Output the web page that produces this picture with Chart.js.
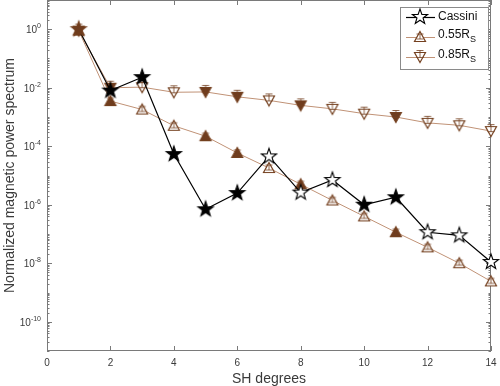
<!DOCTYPE html>
<html>
<head>
<meta charset="utf-8">
<script src="https://cdn.jsdelivr.net/npm/chart.js@4/dist/chart.umd.min.js"></script>
<style>
  html, body { margin:0; padding:0; background:#fff; }
  #wrap { width:500px; height:386px; }
</style>
</head>
<body>
<div id="wrap"><canvas id="c" width="500" height="386"></canvas></div>
<script>
// ---- data ----
const degrees = [1,2,3,4,5,6,7,8,9,10,11,12,13,14];
const cassini = [1.0, 8e-3, 2.3e-2, 5.4e-5, 7e-7, 2.5e-6, 4.5e-5, 2.6e-6, 7e-6, 1.0e-6, 1.8e-6, 1.15e-7, 9e-8, 1.1e-8];
const r055    = [0.9, 3.5e-3, 1.8e-3, 5e-4, 2.2e-4, 5.9e-5, 1.8e-5, 5e-6, 1.4e-6, 4e-7, 1.15e-7, 3.5e-8, 1.0e-8, 2.4e-9];
const r085    = [0.9, 1.0e-2, 1.05e-2, 7e-3, 7.2e-3, 4.9e-3, 3.7e-3, 2.5e-3, 1.9e-3, 1.3e-3, 1.0e-3, 6.3e-4, 5.2e-4, 3.3e-4];
// 1 = filled marker, 0 = open marker
const cassiniFilled = [1,1,1,1,1,1,0,0,0,1,1,0,0,0];
const modelFilled   = [1,1,0,0,1,1,0,1,0,0,1,0,0,0];
const xTicks = [0,2,4,6,8,10,12,14];
const yTickExps = [0,-2,-4,-6,-8,-10];
const labels = ['Cassini', '0.55R', '0.85R'];

const BROWN = '#6e3c1e';
const BROWN_EDGE = '#74401f';
const BROWN_LINE = '#c09276';
const AXIS = '#7a7a7a';
const TEXT = '#3a3a3a';
const FONT = '"Liberation Sans", Arial, Helvetica, sans-serif';

// ---- marker images ----
function makeCanvas() {
  const c = document.createElement('canvas');
  c.width = 22; c.height = 22;
  return c;
}
function starMarker(fill, stroke) {
  const c = makeCanvas(), g = c.getContext('2d');
  g.translate(11, 11);
  g.beginPath();
  for (let i = 0; i < 10; i++) {
    const r = i % 2 === 0 ? 8 : 3.2;
    const a = -Math.PI / 2 + i * Math.PI / 5;
    const px = r * Math.cos(a), py = r * Math.sin(a);
    if (i === 0) g.moveTo(px, py); else g.lineTo(px, py);
  }
  g.closePath();
  g.fillStyle = fill; g.fill();
  g.lineWidth = 1.1; g.strokeStyle = stroke; g.stroke();
  return c;
}
function triMarker(up, filled) {
  const c = makeCanvas(), g = c.getContext('2d');
  g.translate(11, 11);
  g.beginPath();
  if (up) { g.moveTo(0, -5.5); g.lineTo(5.5, 4.5); g.lineTo(-5.5, 4.5); }
  else    { g.moveTo(0, 5.5);  g.lineTo(5.5, -4.5); g.lineTo(-5.5, -4.5); }
  g.closePath();
  g.fillStyle = filled ? BROWN : '#fff'; g.fill();
  g.lineWidth = 1.2; g.strokeStyle = BROWN_EDGE; g.stroke();
  // small error bar
  g.beginPath();
  g.lineWidth = 0.8;
  const y1 = up ? -3 : -6.5, y2 = up ? 2 : 0.5;
  g.moveTo(0, y1); g.lineTo(0, y2);
  g.moveTo(-3.5, y1); g.lineTo(3.5, y1);
  g.moveTo(-3.5, y2); g.lineTo(3.5, y2);
  g.stroke();
  return c;
}
const starFilled = starMarker('#000', '#000');
const starOpen = starMarker('#fff', '#000');
const starBrown = starMarker(BROWN, BROWN_EDGE);
const upFilled = triMarker(true, true), upOpen = triMarker(true, false);
const dnFilled = triMarker(false, true), dnOpen = triMarker(false, false);

function pts(arr) { return degrees.map((d, i) => ({x: d, y: arr[i]})); }

// ---- axes, ticks, legend drawn by hand (MATLAB style) ----
const matlabAxes = {
  id: 'matlabAxes',
  beforeDatasetsDraw(chart) {
    const {ctx, chartArea: a, scales: {x, y}} = chart;
    ctx.save();
    ctx.strokeStyle = AXIS; ctx.lineWidth = 1;
    ctx.strokeRect(a.left + 0.5, a.top + 0.5, a.right - a.left - 1, a.bottom - a.top - 1);
    ctx.beginPath();
    xTicks.forEach(v => {
      const px = Math.round(x.getPixelForValue(v)) + 0.5;
      ctx.moveTo(px, a.bottom); ctx.lineTo(px, a.bottom - 5);
      ctx.moveTo(px, a.top); ctx.lineTo(px, a.top + 5);
    });
    for (let e = -11; e <= 0; e++) {
      for (let m = 1; m <= 9; m++) {
        const v = m * Math.pow(10, e);
        if (v < y.min || v > y.max) continue;
        const py = Math.round(y.getPixelForValue(v)) + 0.5;
        const major = m === 1 && yTickExps.includes(e);
        const len = major ? 5 : 2.5;
        ctx.moveTo(a.left, py); ctx.lineTo(a.left + len, py);
        ctx.moveTo(a.right, py); ctx.lineTo(a.right - len, py);
      }
    }
    ctx.stroke();

    ctx.fillStyle = TEXT;
    ctx.font = '10px ' + FONT;
    ctx.textAlign = 'center'; ctx.textBaseline = 'middle';
    xTicks.forEach(v => ctx.fillText(String(v), x.getPixelForValue(v), a.bottom + 12));
    yTickExps.forEach(e => {
      const py = y.getPixelForValue(Math.pow(10, e));
      const ex = String(e);
      ctx.font = '7px ' + FONT;
      const ew = ctx.measureText(ex).width;
      ctx.textAlign = 'left'; ctx.textBaseline = 'alphabetic';
      ctx.fillText(ex, 41 - ew, py - 1);
      ctx.font = '10px ' + FONT;
      ctx.textAlign = 'right';
      ctx.fillText('10', 41 - ew, py + 4);
    });

    ctx.font = '14px ' + FONT;
    ctx.textAlign = 'center'; ctx.textBaseline = 'middle';
    ctx.fillText('SH degrees', (a.left + a.right) / 2, a.bottom + 28);
    ctx.translate(10, (a.top + a.bottom) / 2);
    ctx.rotate(-Math.PI / 2);
    ctx.fillText('Normalized magnetic power spectrum', 0, 0);
    ctx.restore();
  },
  afterDraw(chart) {
    const {ctx} = chart;
    ctx.save();
    ctx.fillStyle = '#fff'; ctx.strokeStyle = '#8a8a8a'; ctx.lineWidth = 1;
    ctx.fillRect(400.5, 7.5, 88, 62);
    ctx.strokeRect(400.5, 7.5, 88, 62);
    const rows = [
      {y: 17, line: '#000', img: starOpen, sub: false},
      {y: 37, line: BROWN_LINE, img: upOpen, sub: true},
      {y: 57, line: BROWN_LINE, img: dnOpen, sub: true}
    ];
    rows.forEach((r, i) => {
      ctx.strokeStyle = r.line; ctx.lineWidth = i === 0 ? 1.2 : 1;
      ctx.beginPath(); ctx.moveTo(406, r.y + 0.5); ctx.lineTo(435, r.y + 0.5); ctx.stroke();
      ctx.drawImage(r.img, 420 - 11, r.y - 11);
      ctx.fillStyle = '#111';
      ctx.font = '12px ' + FONT;
      ctx.textAlign = 'left'; ctx.textBaseline = 'middle';
      ctx.fillText(labels[i], 438, r.y - (r.sub ? 2 : 0));
      if (r.sub) {
        const w = ctx.measureText(labels[i]).width;
        ctx.font = '9px ' + FONT;
        ctx.fillText('S', 438 + w, r.y + 3);
      }
    });
    ctx.restore();
  }
};

new Chart(document.getElementById('c'), {
  type: 'line',
  data: {
    datasets: [
      {
        label: 'Cassini', data: pts(cassini),
        borderColor: '#000', borderWidth: 1.2, clip: false,
        pointStyle: c => c.dataIndex === 0 ? starBrown : (cassiniFilled[c.dataIndex] ? starFilled : starOpen),
        pointRadius: 6
      },
      {
        label: '0.55R_S', data: pts(r055),
        borderColor: BROWN_LINE, borderWidth: 1, clip: false,
        pointStyle: c => modelFilled[c.dataIndex] ? upFilled : upOpen,
        pointRadius: 6
      },
      {
        label: '0.85R_S', data: pts(r085),
        borderColor: BROWN_LINE, borderWidth: 1, clip: false,
        pointStyle: c => modelFilled[c.dataIndex] ? dnFilled : dnOpen,
        pointRadius: 6
      }
    ]
  },
  options: {
    responsive: false,
    animation: false,
    layout: {autoPadding: false, padding: {left: 47, right: 9, top: 0, bottom: 35}},
    plugins: {legend: {display: false}, tooltip: {enabled: false}},
    elements: {line: {tension: 0, fill: false}},
    scales: {
      x: {type: 'linear', min: 0, max: 14, display: false},
      y: {type: 'logarithmic', min: 1e-11, max: 10, display: false}
    }
  },
  plugins: [matlabAxes]
});
</script>
</body>
</html>
